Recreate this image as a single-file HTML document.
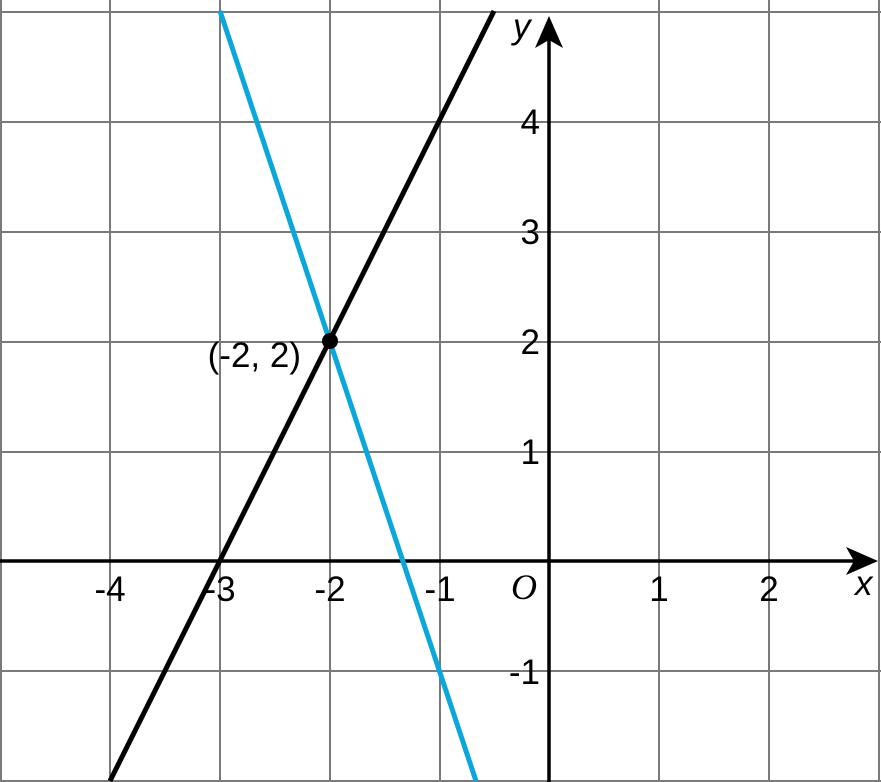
<!DOCTYPE html>
<html><head><style>html,body{margin:0;padding:0;background:#fff}svg{display:block}</style></head>
<body>
<svg width="881" height="782" viewBox="0 0 881 782" xmlns="http://www.w3.org/2000/svg" font-family="Liberation Sans, sans-serif" font-size="35">
<g stroke="#7a7a7a" stroke-width="2">
<line x1="1" y1="0" x2="1" y2="782"/>
<line x1="110" y1="0" x2="110" y2="782"/>
<line x1="220" y1="0" x2="220" y2="782"/>
<line x1="330" y1="0" x2="330" y2="782"/>
<line x1="440" y1="0" x2="440" y2="782"/>
<line x1="659" y1="0" x2="659" y2="782"/>
<line x1="769" y1="0" x2="769" y2="782"/>
<line x1="879" y1="0" x2="879" y2="782"/>
<line x1="0" y1="12" x2="881" y2="12"/>
<line x1="0" y1="122" x2="881" y2="122"/>
<line x1="0" y1="232" x2="881" y2="232"/>
<line x1="0" y1="342" x2="881" y2="342"/>
<line x1="0" y1="452" x2="881" y2="452"/>
<line x1="0" y1="671" x2="881" y2="671"/>
<line x1="0" y1="781" x2="881" y2="781"/>
</g>
<g stroke="#000" stroke-width="3.5">
<line x1="0" y1="561" x2="860" y2="561"/>
<line x1="549" y1="782" x2="549" y2="30"/>
</g>
<polygon points="878,561 846,547 854,561 846,575" fill="#000"/>
<polygon points="549,16 535,48 549,40 563,48" fill="#000"/>
<line x1="110" y1="781" x2="494" y2="11" stroke="#000" stroke-width="5"/>
<line x1="220" y1="11" x2="476" y2="781" stroke="#0aa6dc" stroke-width="5"/>
<circle cx="330" cy="341" r="8" fill="#000"/>
<g text-anchor="middle">
<text x="110" y="601">-4</text>
<text x="220" y="601">-3</text>
<text x="330" y="601">-2</text>
<text x="440" y="601">-1</text>
<text x="659" y="601">1</text>
<text x="769" y="601">2</text>
</g>
<g text-anchor="end">
<text x="540" y="134">4</text>
<text x="540" y="244">3</text>
<text x="540" y="354">2</text>
<text x="540" y="464">1</text>
<text x="540" y="684">-1</text>
</g>
<text x="301" y="367" text-anchor="end">(-2, 2)</text>
<text x="855" y="595" font-style="italic">x</text>
<text x="513" y="38" font-style="italic">y</text>
<text x="524" y="599" text-anchor="middle" font-family="Liberation Serif, serif" font-style="italic" font-size="36">O</text>
</svg>
</body></html>
